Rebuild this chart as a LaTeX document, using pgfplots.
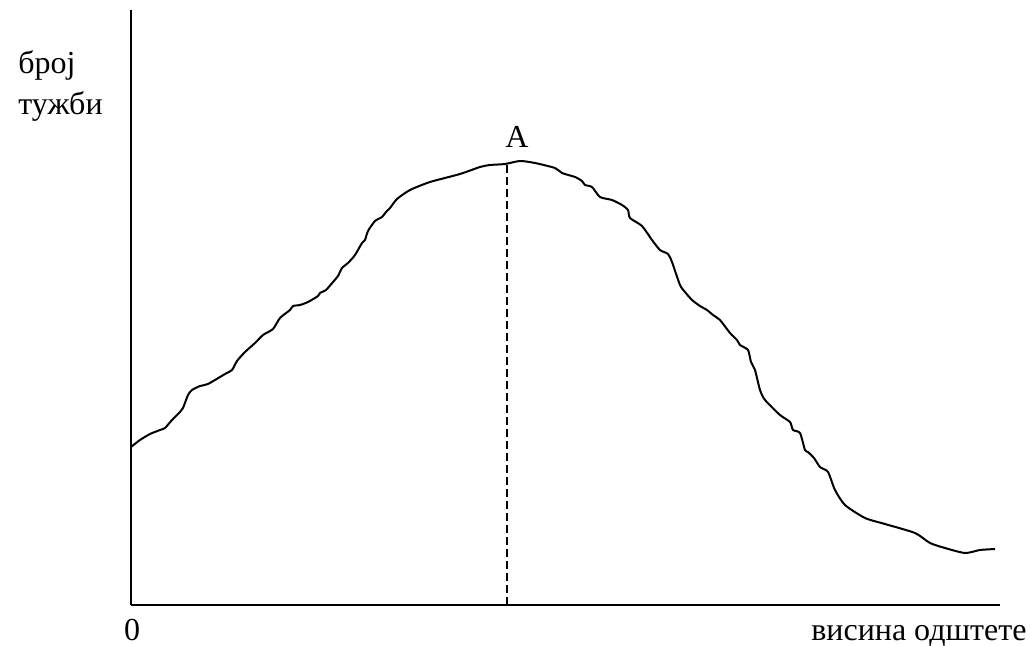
\documentclass[border=0pt]{standalone}
\usepackage{pgfplots}
\pgfplotsset{compat=1.18}
\usepackage{fontspec}
\setmainfont{Liberation Serif}
\begin{document}
\begin{tikzpicture}
\useasboundingbox (0,0) rectangle (515pt,322.5pt);
\begin{axis}[
  at={(65.5pt,20pt)}, anchor=south west,
  width=434.5pt, height=297.5pt, scale only axis,
  xmin=0, xmax=869, ymin=0, ymax=595,
  axis lines=left,
  axis line style={-, line width=1.2pt},
  xtick=\empty, ytick=\empty,
  clip=false,
]
\addplot[black, line width=1pt, smooth, tension=0.4] coordinates {
(0,158)(9,165)(19,171)(29,175)(34,177)(41,185)(49,193)(52,197)(57,210)(61,215)(69,219)(77,221)(94,231)(101,235)(106,244)(114,253)(124,262)(132,270)(142,276)(149,287)(159,295)(162,299)(169,300)(177,303)(187,309)(189,312)(195,315)(202,323)(207,329)(211,337)(217,342)(224,350)(231,362)(234,365)(237,374)(244,384)(251,388)(255,393)(259,397)(266,406)(279,415)(299,423)(329,431)(349,438)(359,440)(374,441)(389,444)(404,442)(424,437)(431,432)(444,428)(451,424)(454,420)(461,418)(469,408)(481,405)(491,400)(497,395)(499,387)(511,379)(521,365)(529,355)(537,351)(541,343)(549,320)(554,313)(561,305)(569,299)(576,295)(582,290)(589,285)(599,272)(606,265)(609,260)(617,255)(620,243)(624,235)(629,215)(634,205)(649,190)(659,183)(662,175)(669,172)(674,155)(677,153)(683,147)(689,138)(697,133)(704,115)(714,100)(734,87)(754,81)(784,72)(799,62)(814,57)(834,52)(849,55)(864,56)
};
\addplot[black, line width=0.8pt, dash pattern=on 4pt off 2pt] coordinates {(376,0)(376,440)};
\node[font=\fontsize{16}{20}\selectfont] at (axis cs:386,468) {A};
\end{axis}
\node[anchor=base west, inner sep=0pt, font=\fontsize{16}{20}\selectfont] at (9pt,286pt) {број};
\node[anchor=base west, inner sep=0pt, font=\fontsize{16}{20}\selectfont] at (9pt,265.5pt) {тужби};
\node[anchor=base, inner sep=0pt, font=\fontsize{16}{20}\selectfont] at (66pt,2.5pt) {0};
\node[anchor=base east, inner sep=0pt, font=\fontsize{16}{20}\selectfont] at (513.5pt,2.5pt) {висина одштете};
\end{tikzpicture}
\end{document}
